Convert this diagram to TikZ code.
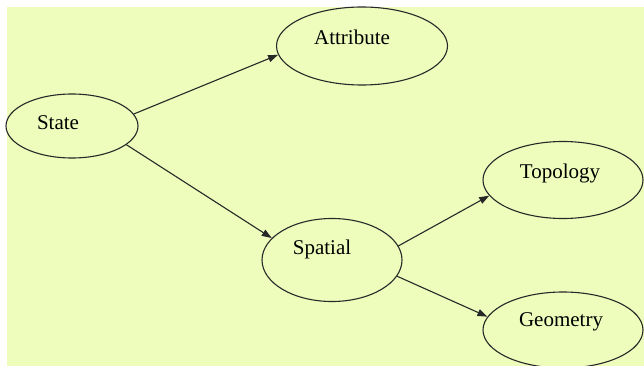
\documentclass[tikz,border=0pt]{standalone}
\usepackage{fontspec}
\setmainfont{Liberation Serif}
\usetikzlibrary{shapes.geometric,arrows.meta}
\definecolor{panel}{RGB}{238,252,188}
\definecolor{ink}{RGB}{40,40,40}
\tikzset{
  bubble/.style={ellipse, draw=ink, line width=1.1pt, inner sep=0pt},
  caption/.style={inner sep=0pt, font=\fontsize{21}{24}\selectfont, text=black},
  link/.style={draw=ink, line width=1.1pt, -{Triangle[length=10pt,width=7pt]}}
}
\begin{document}
\begin{tikzpicture}[x=1pt,y=-1pt]
\useasboundingbox (0,0) rectangle (644,366);
\clip (0,0) rectangle (644,366);
\fill[panel] (7,7) rectangle (644,366);

% ellipses
\node[bubble, minimum width=132pt, minimum height=64pt] (state) at (72,126) {};
\node[bubble, minimum width=171pt, minimum height=78pt] (attr) at (362,46) {};
\node[bubble, minimum width=140pt, minimum height=83pt] (spatial) at (332,260) {};
\node[bubble, minimum width=160pt, minimum height=77pt] (topo) at (563,180) {};
\node[bubble, minimum width=160pt, minimum height=76pt] (geom) at (563,330) {};

% labels
\node[caption] (stateT) at (58,123) {State};
\node[caption] (attrT) at (352,37) {Attribute};
\node[caption] (spatialT) at (322,249) {Spatial};
\node[caption] (topoT) at (560,173) {Topology};
\node[caption] (geomT) at (561,322) {Geometry};

% connectors
\draw[link] (state.11) -- (attr.186);
\draw[link] (state.-19) -- (spatial.160);
\draw[link] (spatial.12) -- (topo.192);
\draw[link] (spatial.-14) -- (geom.170);
\end{tikzpicture}
\end{document}
